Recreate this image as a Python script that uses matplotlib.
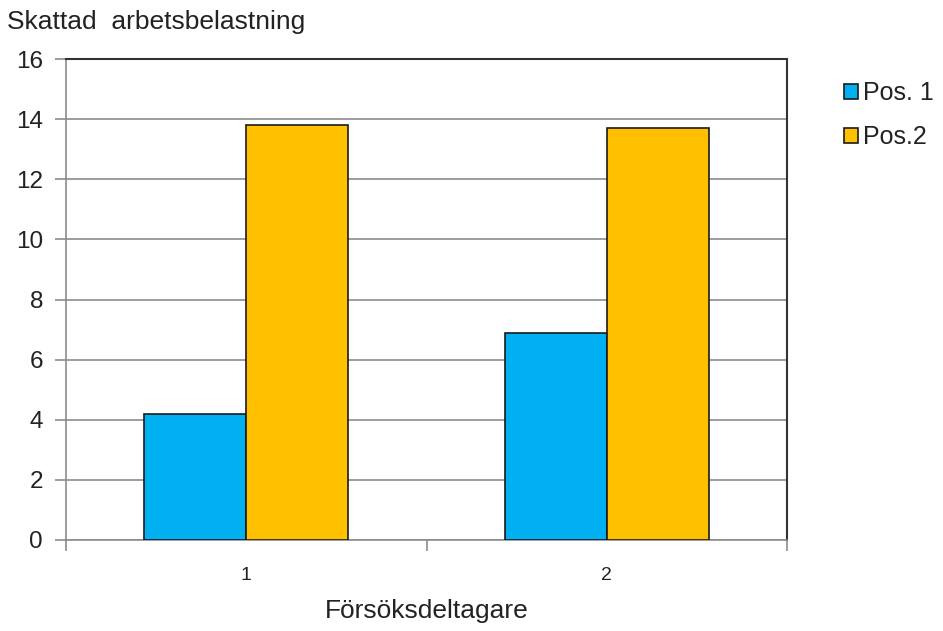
import matplotlib
matplotlib.use("Agg")
import matplotlib.pyplot as plt
import numpy as np

participants = ["1", "2"]
series_names = ["Pos. 1", "Pos.2"]
pos1 = [4.2, 6.9]
pos2 = [13.8, 13.7]
y_ticks = [0, 2, 4, 6, 8, 10, 12, 14, 16]

plt.rcParams["font.family"] = ["Liberation Sans", "DejaVu Sans"]

fig = plt.figure(figsize=(9.43, 6.31), dpi=100)
W, H = 943, 631
ax = fig.add_axes([66 / W, 1 - 540 / H, (787 - 66) / W, (540 - 59) / H])

text_col = "#222222"
tick_fs = 17.5
word_fs = 19

x = np.arange(len(participants))
bw = 0.283
colors = ["#00B0F0", "#FFC000"]
ax.bar(x - bw / 2, pos1, width=bw, color=colors[0], edgecolor="#1a1a1a",
       linewidth=1.2, label=series_names[0], zorder=3)
ax.bar(x + bw / 2, pos2, width=bw, color=colors[1], edgecolor="#1a1a1a",
       linewidth=1.2, label=series_names[1], zorder=3)

ax.set_xlim(-0.5, len(participants) - 0.5)
ax.set_ylim(0, 16)
ax.set_yticks(y_ticks)
ax.set_yticklabels([str(v) for v in y_ticks], fontsize=tick_fs, color=text_col)
ax.yaxis.grid(True, color="#8c8c8c", linewidth=1.2, zorder=0)
ax.set_axisbelow(True)

# category labels sit between boundary ticks
ax.set_xticks(x)
ax.set_xticklabels(participants, fontsize=14, color=text_col)
ax.tick_params(axis="x", which="major", length=0, pad=19.5)
ax.set_xticks(np.arange(-0.5, len(participants)), minor=True)
ax.tick_params(axis="x", which="minor", length=8, width=1.2, color="#8c8c8c",
               direction="out")
ax.tick_params(axis="y", length=8, width=1.2, color="#8c8c8c", pad=8.5)

for side in ("left", "bottom"):
    ax.spines[side].set_color("#8c8c8c")
    ax.spines[side].set_linewidth(1.2)
for side in ("top", "right"):
    ax.spines[side].set_color("#333333")
    ax.spines[side].set_linewidth(1.5)

ax.set_xlabel("Försöksdeltagare", fontsize=word_fs, color=text_col)
ax.xaxis.set_label_coords(0.5, -(611 - 540) / (540 - 59))
ax.xaxis.label.set_va("center")

fig.text(7 / W, 1 - 22 / H, "Skattad  arbetsbelastning", fontsize=word_fs,
         color=text_col, va="center", ha="left")

leg = ax.legend(loc="upper left", bbox_to_anchor=(844 / W, 1 - 81 / H),
                bbox_transform=fig.transFigure, frameon=False, fontsize=18,
                handlelength=0.56, handleheight=0.56, handletextpad=0.2,
                labelspacing=0.82, borderaxespad=0, borderpad=0)
for t in leg.get_texts():
    t.set_color(text_col)

fig.savefig("out.png", dpi=100, facecolor="white")
